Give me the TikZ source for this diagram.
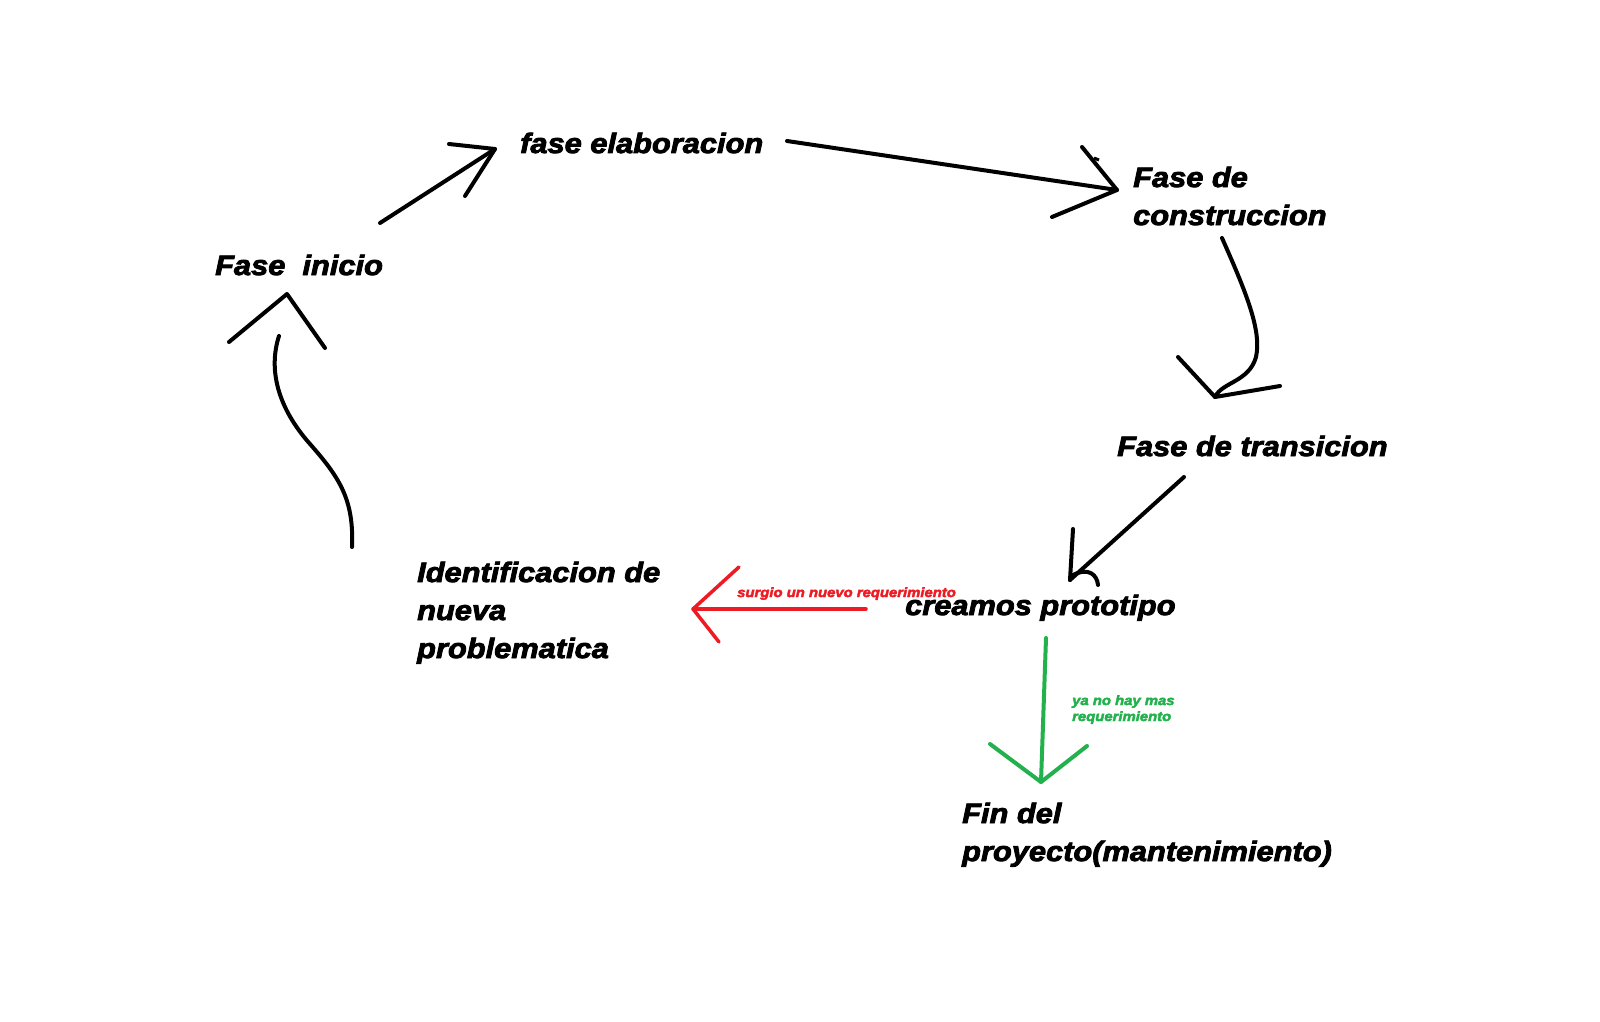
\documentclass[tikz,border=0pt]{standalone}
\usepackage{fontspec}
\usepackage{xcolor}
\usepackage{tikz}
\usetikzlibrary{calc}
\newfontfamily\paintfont{Liberation Sans}[FakeStretch=1.1,FakeBold=3]
\definecolor{paintred}{RGB}{237,28,36}
\definecolor{paintgreen}{RGB}{34,177,76}

\begin{document}
\begin{tikzpicture}[
    x=1pt, y=-1pt,
    phase/.style={anchor=base west, inner sep=0pt, align=left, font=\paintfont\bfseries\itshape\fontsize{28}{38}\selectfont},
    note/.style={anchor=base west, inner sep=0pt, align=left, font=\paintfont\bfseries\itshape\fontsize{13.5}{16}\selectfont},
    stroke/.style={line width=4pt, line cap=round, line join=round},
    thinstroke/.style={line width=3.5pt, line cap=round, line join=round}
]
\useasboundingbox[fill=white] (0,0) rectangle (1600,1022);

% Phases of the cycle (base = last line)
\node[phase] (inicio) at (215,275) {Fase\ \ inicio};
\node[phase] (elab) at (520,153) {fase elaboracion};
\node[phase] (constr) at (1133,225) {Fase de\\construccion};
\node[phase] (trans) at (1117,456) {Fase de transicion};
\node[phase] (proto) at (905,615) {creamos prototipo};
\node[phase] (ident) at (417,658) {Identificacion de\\nueva\\problematica};
\node[phase] (fin) at (962,861) {Fin del\\proyecto(mantenimiento)};

% Decision notes
\node[note, text=paintred] (nuevo) at (737,597) {surgio un nuevo requerimiento};
\node[note, text=paintgreen] (nomas) at (1072,721) {ya no hay mas\\requerimiento};

% inicio -> elaboracion
\coordinate (s1) at (380,223);
\coordinate (t1) at (495,149);
\draw[stroke] (s1) -- (t1);
\draw[stroke] (449,144) -- (t1) -- (465,196);

% elaboracion -> construccion
\coordinate (s2) at (787,141);
\coordinate (t2) at (1117,190);
\draw[stroke] (s2) -- (t2);
\draw[stroke] (1082,147) -- (t2) -- (1052,217);
\draw[line width=3pt] (1094,158) -- (1099,160);

% construccion -> transicion
\coordinate (s3) at (1222,238);
\coordinate (t3) at (1215,397);
\draw[stroke] (s3) .. controls (1245,290) and (1262,330) .. (1256,357)
    .. controls (1249,382) and (1222,382) .. (t3);
\draw[stroke] (1178,357) -- (t3) -- (1280,386);

% transicion -> prototipo
\coordinate (s4) at (1184,477);
\coordinate (t4) at (1070,580);
\draw[stroke] (s4) -- (t4);
\draw[stroke] (1073,529) -- (t4);
\draw[stroke] (1073,575) .. controls (1089,567) and (1097,575) .. (1098,585);

% prototipo -> identificacion (rojo)
\coordinate (s5) at (866,609);
\coordinate (t5) at (693,609);
\draw[thinstroke, paintred] (s5) -- (t5);
\draw[thinstroke, paintred] (739,567) -- (t5) -- (719,642);

% prototipo -> fin (verde)
\coordinate (s6) at (1046,638);
\coordinate (t6) at (1041,782);
\draw[stroke, paintgreen] (s6) -- (t6);
\draw[stroke, paintgreen] (990,744) -- (t6) -- (1087,746);

% identificacion -> inicio
\coordinate (s7) at (352,547);
\coordinate (t7) at (279,336);
\coordinate (h7) at (287,294);
\draw[stroke] (s7) .. controls (354,500) and (340,478) .. (310,444)
    .. controls (278,408) and (268,370) .. (t7);
\draw[stroke] (229,342) -- (h7) -- (325,348);

\end{tikzpicture}
\end{document}
